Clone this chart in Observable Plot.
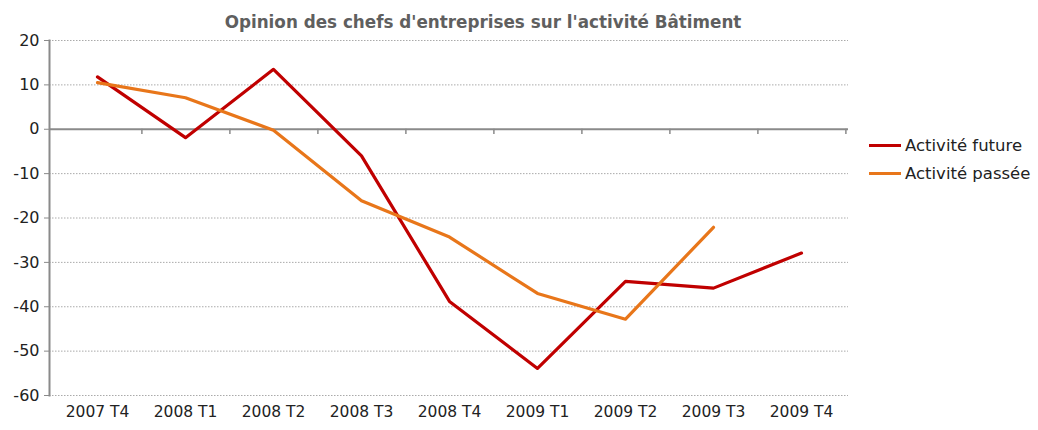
<!DOCTYPE html>
<html>
<head>
<meta charset="utf-8">
<script src="https://cdn.jsdelivr.net/npm/d3@7"></script>
<script src="https://cdn.jsdelivr.net/npm/@observablehq/plot@0.6"></script>
<style>
  body { margin: 0; background: #fff; font-family: "DejaVu Sans", sans-serif; }
  #wrap { position: relative; width: 1038px; height: 430px; }
  #title { position: absolute; left: 0; width: 966px; top: 12px; text-align: center;
           font-size: 16.8px; font-weight: bold; color: #5f5f5f; }
  .leg { position: absolute; left: 869px; font-size: 16.5px; color: #222; display: flex; align-items: center; }
  .leg span.sw { display: inline-block; width: 32px; height: 3px; margin-right: 4px; }
</style>
</head>
<body>
<div id="wrap">
  <div id="title">Opinion des chefs d'entreprises sur l'activité Bâtiment</div>
  <div class="leg" style="top:136px"><span class="sw" style="background:#C00000"></span>Activité future</div>
  <div class="leg" style="top:164px"><span class="sw" style="background:#E8761A"></span>Activité passée</div>
</div>
<script>
const categories = ["2007 T4","2008 T1","2008 T2","2008 T3","2008 T4","2009 T1","2009 T2","2009 T3","2009 T4"];
const future = [11.8, -1.9, 13.5, -6, -38.8, -53.9, -34.3, -35.8, -27.9];
const passee = [10.5, 7.1, -0.2, -16.1, -24.3, -37.0, -42.8, -22.1, null];
const yTicks = [-60, -50, -40, -30, -20, -10, 0, 10, 20];
const seriesNames = ["Activité future", "Activité passée"];
const colors = ["#C00000", "#E8761A"];

const rows = [];
categories.forEach((c, i) => {
  if (future[i] != null) rows.push({cat: c, value: future[i], serie: seriesNames[0]});
  if (passee[i] != null) rows.push({cat: c, value: passee[i], serie: seriesNames[1]});
});

const W = 1038, H = 430, mL = 49, mR = 190, mT = 40, mB = 35;
const bw = (W - mL - mR) / categories.length;

const chart = Plot.plot({
  width: W, height: H,
  marginLeft: mL, marginRight: mR, marginTop: mT, marginBottom: mB,
  style: {fontFamily: "DejaVu Sans, sans-serif", fontSize: "15px", color: "#222", background: "#fff"},
  x: {type: "band", domain: categories, padding: 0, label: null},
  y: {domain: [-60, 20], label: null},
  color: {domain: seriesNames, range: colors},
  marks: [
    Plot.ruleY(yTicks.filter(v => v !== 0), {stroke: "#aaa", strokeDasharray: "1.5,1.5", strokeWidth: 1}),
    Plot.ruleY([0], {stroke: "#8a8a8a", strokeWidth: 2}),
    Plot.ruleX(categories, {x: d => d, y1: 0, y2: -1.2, dx: bw / 2, stroke: "#8a8a8a", strokeWidth: 1.5}),
    Plot.frame({anchor: "left", stroke: "#8a8a8a", strokeWidth: 2}),
    Plot.axisY({ticks: yTicks, tickFormat: d => String(d), tickSize: 5, tickPadding: 5, stroke: "#8a8a8a", fontSize: 16, label: null}),
    Plot.axisX({tickSize: 0, tickPadding: 10, fontSize: 15.5, label: null}),
    Plot.line(rows, {x: "cat", y: "value", z: "serie", stroke: "serie", strokeWidth: 3.2, strokeLinejoin: "round", strokeLinecap: "round"})
  ]
});
const wrap = document.getElementById("wrap");
chart.style.position = "absolute";
chart.style.left = "0";
chart.style.top = "0";
wrap.insertBefore(chart, wrap.firstChild);
</script>
</body>
</html>
